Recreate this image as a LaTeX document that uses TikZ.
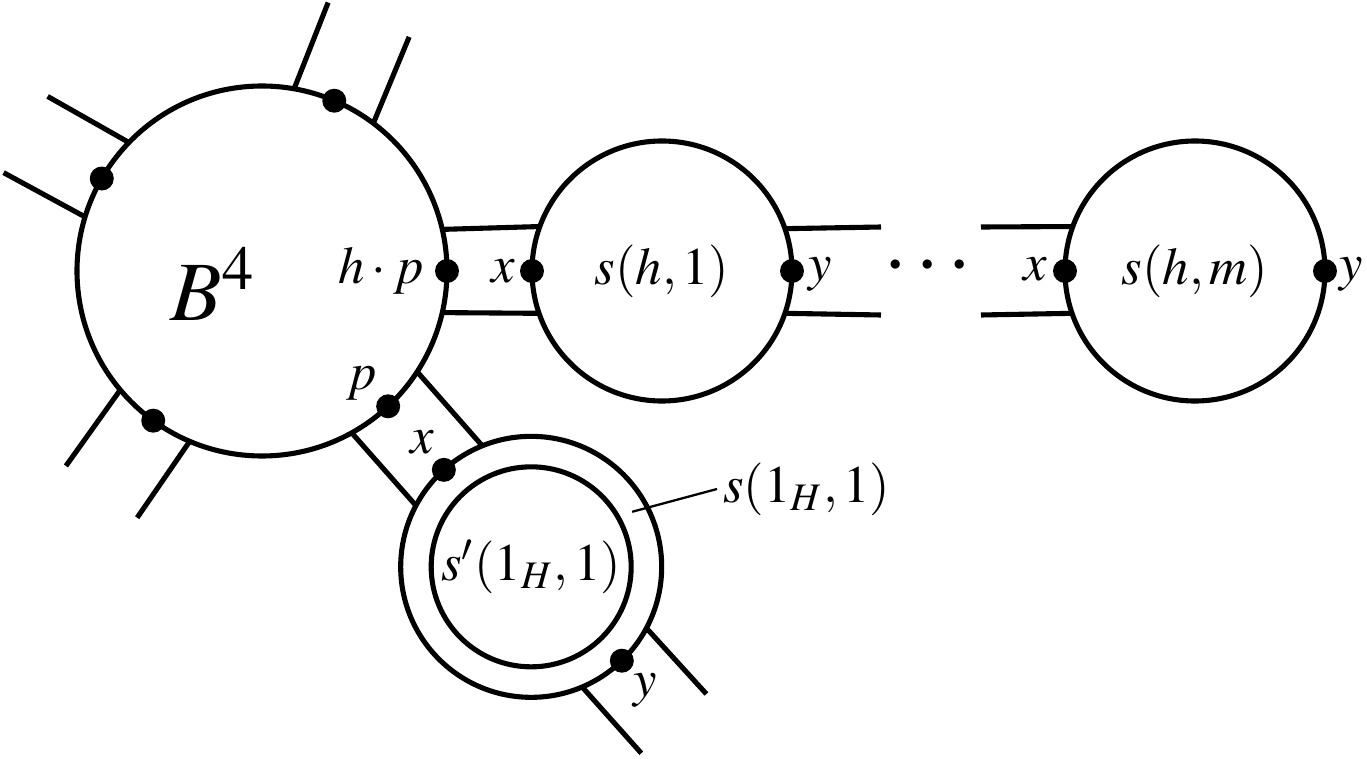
\documentclass[tikz,border=0pt]{standalone}
\usepackage{amssymb}
\usepackage{amsmath}
\usepackage{mathptmx}
\usetikzlibrary{calc}
\tikzset{ball/.style={circle, draw, outer sep=0pt, inner sep=0pt},
  tag/.style={inner sep=1pt}}

\begin{document}
\begin{tikzpicture}[line width=1.45pt, font=\fontsize{15}{18}\selectfont]
  \useasboundingbox (-2.62, 2.71) rectangle (11.05, -4.88);
  \pgfmathsetmacro{\dotSize}{0.12}
  % Draw the balls
  \node[ball, minimum size=3.7cm] (B) at (0, 0) {};
  \node[ball, minimum size=2.6cm] (S1) at (4, 0) {$s(h,1)$};
  \node[ball, minimum size=2.6cm] (Sm) at (9.33, 0) {$s(h,m)$};
  \node[ball, minimum size=2.61cm] (D) at (-47.7:4) {};
  \node[ball, minimum size=2cm] (Din) at (D) {$s'(1_H,1)$};
  \node[font=\fontsize{24}{28}\selectfont] (B4) at (-0.49, -0.13) {$B^4$};
  % Draw free strips on B, with their base points
  \foreach \ang in {67, 150, 234} {
    \pgfmathsetmacro{\lo}{\ang-13.76}
    \pgfmathsetmacro{\hi}{\ang+13.76}
    \coordinate (end-\ang-lo) at ($(B)+(\ang-9.16:2.765)$);
    \coordinate (end-\ang-hi) at ($(B)+(\ang+9.16:2.765)$);
    \draw (B.\lo) -- (end-\ang-lo);
    \draw (B.\hi) -- (end-\ang-hi);
    \fill (B.\ang) circle (\dotSize); }
  % Strip from B to s(h,1)
    \draw (B.13.76) -- (S1.160.22);
    \draw (B.-13.76) -- (S1.199.78);
  % Strip from B to the double ball
    \draw (B.-33.94) -- (D.112.6);
    \draw (B.-61.46) -- (D.152.0);
  % Open strips
    \coordinate (S1-up) at ($(S1)+(2.19, 0.44)$);
    \coordinate (S1-dn) at ($(S1)+(2.19, -0.44)$);
    \coordinate (Sm-up) at ($(Sm)+(-2.14, 0.44)$);
    \coordinate (Sm-dn) at ($(Sm)+(-2.14, -0.44)$);
    \coordinate (D-lo) at ($(D)+(-35.97:2.165)$);
    \coordinate (D-hi) at ($(D)+(-59.43:2.165)$);
    \draw (S1.19.78) -- (S1-up);
    \draw (S1.-19.78) -- (S1-dn);
    \draw (Sm-up) -- (Sm.160.22);
    \draw (Sm-dn) -- (Sm.199.78);
    \draw (D.-28.0) -- (D-lo);
    \draw (D.-67.4) -- (D-hi);
  % Draw base points
    \fill (B.0) circle (\dotSize);
    \fill (B.-47.7) circle (\dotSize);
    \fill (S1.180) circle (\dotSize);
    \fill (S1.0) circle (\dotSize);
    \fill (Sm.180) circle (\dotSize);
    \fill (Sm.0) circle (\dotSize);
    \fill (D.132.3) circle (\dotSize);
    \fill (D.-46) circle (\dotSize);
  % Label base points
  \node[tag, anchor=east] (hp) at ($(B.0)+(-0.17, 0)$) {$h\cdot p$};
  \node[tag] (p) at (1.00, -1.12) {$p$};
  \node[tag] (xD) at (1.60, -1.71) {$x$};
  \node[tag] (yD) at (3.83, -4.19) {$y$};
  \node[tag, anchor=east] (x1) at ($(S1.180)+(-0.11, 0)$) {$x$};
  \node[tag, anchor=west] (y1) at ($(S1.0)+(0.105, -0.03)$) {$y$};
  \node[tag, anchor=east] (xm) at ($(Sm.180)+(-0.12, 0.02)$) {$x$};
  \node[tag, anchor=west] (ym) at ($(Sm.0)+(0.085, -0.03)$) {$y$};
  \node[font=\fontsize{25}{28}\selectfont] (dots) at (6.66, 0.04) {${\cdot}\mkern1.6mu{\cdot}\mkern1.6mu{\cdot}$};
  % Label the outer ball
  \coordinate (tick) at ($(D)+(28.6:1.15)$);
  \node[tag, anchor=west] (sOut) at (4.55, -2.18) {$s(1_H,1)$};
  \draw[line width=0.65pt] (tick) -- (sOut.west);
\end{tikzpicture}
\end{document}
